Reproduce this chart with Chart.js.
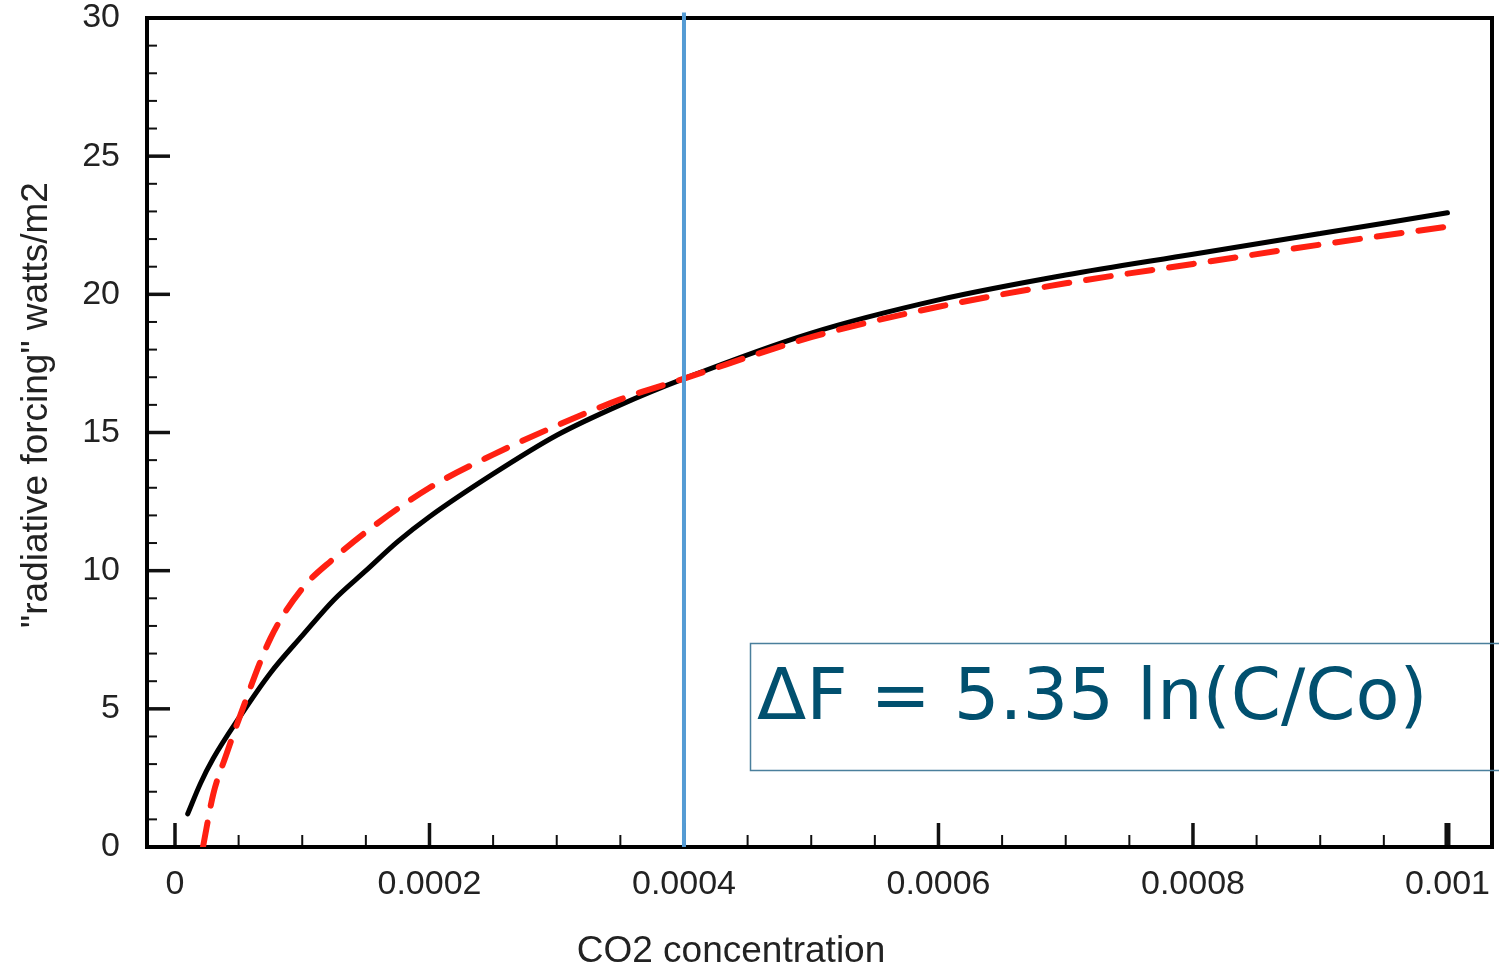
<!DOCTYPE html>
<html>
<head>
<meta charset="utf-8">
<script src="https://cdn.jsdelivr.net/npm/chart.js@4.4.1/dist/chart.umd.min.js"></script>
<style>
  body { margin: 0; background: #fff; }
  canvas { display: block; }
</style>
</head>
<body>
<canvas id="ForcingChart" width="1499" height="973"></canvas>
<script>
// values
const co2Black = [0.00001, 0.00002, 0.00003, 0.00005, 0.000075, 0.0001, 0.000125, 0.00015, 0.000175, 0.0002, 0.00025, 0.0003, 0.00035, 0.0004, 0.0005, 0.0006, 0.0007, 0.0008, 0.0009, 0.001];
const forcingBlack = [1.2, 2.3, 3.2, 4.65, 6.3, 7.65, 8.95, 10.0, 11.05, 11.95, 13.5, 14.9, 16.0, 16.95, 18.6, 19.8, 20.7, 21.45, 22.2, 22.95];

const co2Red = [0.000022, 0.00003, 0.00004, 0.00005, 0.000075, 0.0001, 0.000125, 0.00015, 0.0002, 0.00025, 0.0003, 0.00035, 0.0004, 0.0005, 0.0006, 0.0007, 0.0008, 0.0009, 0.001];
const forcingRed = [0, 1.9, 3.3, 4.6, 7.55, 9.35, 10.45, 11.4, 13.0, 14.2, 15.25, 16.2, 16.95, 18.45, 19.55, 20.4, 21.1, 21.8, 22.45];

const markerCo2 = [0.0004, 0.0004];
const markerForcing = [0, 30.2];

const xTickValues = [0, 0.0002, 0.0004, 0.0006, 0.0008, 0.001];
const xTickLabels = ["0", "0.0002", "0.0004", "0.0006", "0.0008", "0.001"];
const xMinorStep = 0.00005;
const yMinorStep = 1;

const toPoints = (xs, ys) => xs.map((x, i) => ({ x: x, y: ys[i] }));

// inward ticks and frame (under the lines)
const frame = {
  id: "frame",
  beforeDatasetsDraw(chart) {
    const ctx = chart.ctx;
    const area = chart.chartArea;
    const xs = chart.scales.x;
    const ys = chart.scales.y;
    ctx.save();
    ctx.strokeStyle = "#111";

    for (let i = 0; i <= 30 / yMinorStep; i++) {
      const v = i * yMinorStep;
      const major = v % 5 === 0;
      const py = ys.getPixelForValue(v);
      ctx.lineWidth = major ? 3.5 : 2;
      ctx.beginPath();
      ctx.moveTo(area.left, py);
      ctx.lineTo(area.left + (major ? 23 : 10), py);
      ctx.stroke();
    }
    for (let i = 0; i <= Math.round(0.001 / xMinorStep); i++) {
      const v = i * xMinorStep;
      const major = i % 4 === 0;
      const px = xs.getPixelForValue(v);
      ctx.lineWidth = major ? (i === 20 ? 6 : 3.5) : 2;
      ctx.beginPath();
      ctx.moveTo(px, area.bottom);
      ctx.lineTo(px, area.bottom - (major ? 24 : 12));
      ctx.stroke();
    }

    ctx.lineWidth = 4;
    ctx.strokeStyle = "#000";
    ctx.strokeRect(area.left, area.top, area.right - area.left, area.bottom - area.top);
    ctx.restore();
  }
};

// axis titles and the formula box
const labels = {
  id: "labels",
  afterDraw(chart) {
    const ctx = chart.ctx;
    ctx.save();
    ctx.fillStyle = "#222";
    ctx.font = '37px "Liberation Sans", Arial, sans-serif';
    ctx.textAlign = "center";
    ctx.textBaseline = "middle";
    ctx.fillText("CO2 concentration", 731, 952);
    ctx.save();
    ctx.translate(37, 405);
    ctx.rotate(-Math.PI / 2);
    ctx.fillText('"radiative forcing" watts/m2', 0, 0);
    ctx.restore();

    ctx.lineWidth = 1.5;
    ctx.strokeStyle = "#4a7f9c";
    ctx.strokeRect(750.5, 643.5, 770, 127);
    ctx.fillStyle = "#01506f";
    ctx.font = '72px "DejaVu Sans", Verdana, sans-serif';
    ctx.textAlign = "left";
    ctx.textBaseline = "alphabetic";
    ctx.fillText("\u0394F = 5.35 ln(C/Co)", 757, 719);
    ctx.restore();
  }
};

const ForcingChart = document.getElementById("ForcingChart");
new Chart(ForcingChart, {
  type: "line",
  data: {
    datasets: [
      {
        label: "marker",
        data: toPoints(markerCo2, markerForcing),
        borderColor: "rgb(84, 155, 212)",
        borderWidth: 4,
        pointRadius: 0,
        clip: false
      },
      {
        label: "fit",
        data: toPoints(co2Red, forcingRed),
        borderColor: "rgb(255, 32, 18)",
        borderWidth: 6,
        borderDash: [25, 17],
        borderCapStyle: "round",
        pointRadius: 0,
        cubicInterpolationMode: "monotone"
      },
      {
        label: "forcing",
        data: toPoints(co2Black, forcingBlack),
        borderColor: "#000",
        borderWidth: 5,
        borderCapStyle: "round",
        pointRadius: 0,
        cubicInterpolationMode: "monotone"
      }
    ]
  },
  options: {
    responsive: false,
    animation: false,
    layout: { padding: { left: 0, right: 7, top: 18, bottom: 0 } },
    plugins: {
      legend: { display: false },
      tooltip: { enabled: false }
    },
    scales: {
      x: {
        type: "linear",
        min: -0.000022,
        max: 0.001035,
        afterFit: s => { s.height = 126; s.paddingLeft = 0; s.paddingRight = 0; },
        afterBuildTicks: s => { s.ticks = xTickValues.map(v => ({ value: v })); },
        grid: { display: false, drawTicks: false },
        border: { display: false },
        ticks: {
          padding: 17,
          maxRotation: 0,
          autoSkip: false,
          color: "#222",
          font: { family: "'Liberation Sans', Arial, sans-serif", size: 34 },
          callback: (v, i) => xTickLabels[i]
        }
      },
      y: {
        min: 0,
        max: 30,
        afterFit: s => { s.width = 147; s.paddingTop = 0; s.paddingBottom = 0; },
        grid: { display: false, drawTicks: false },
        border: { display: false },
        ticks: {
          stepSize: 5,
          padding: 27,
          color: "#222",
          font: { family: "'Liberation Sans', Arial, sans-serif", size: 34 }
        }
      }
    }
  },
  plugins: [frame, labels]
});
</script>
</body>
</html>
